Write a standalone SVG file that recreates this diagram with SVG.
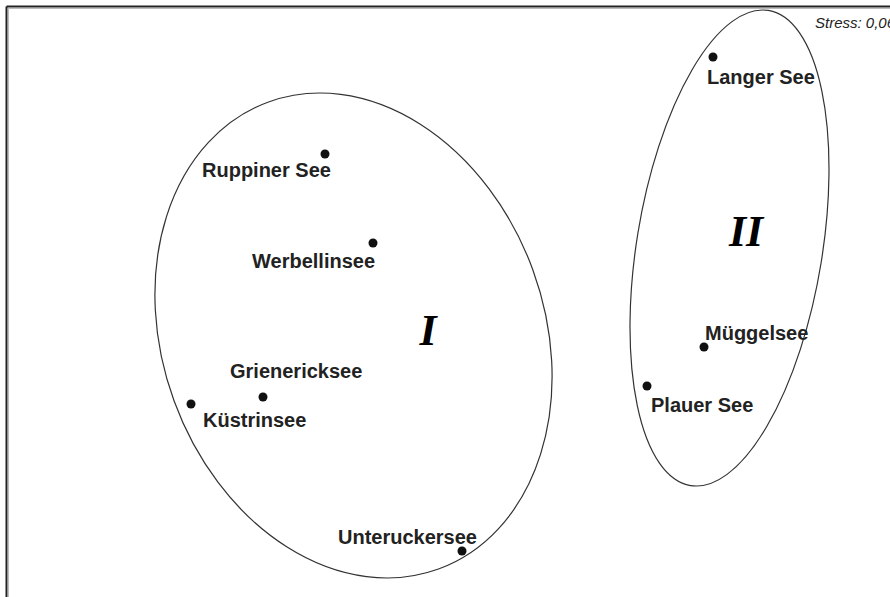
<svg xmlns="http://www.w3.org/2000/svg" width="890" height="597" viewBox="0 0 890 597">
<style>
.lbl{font-family:"Liberation Sans",Arial,sans-serif;font-weight:bold;font-size:20px;fill:#222}
.dot{fill:#111}
.grp{fill:none;stroke:#333;stroke-width:1.2}
.roman{font-family:"Liberation Serif","Times New Roman",serif;font-weight:bold;font-style:italic;font-size:44px;fill:#000;text-anchor:middle}
</style>
<rect width="890" height="597" fill="#fff"/>
<g id="frame">
<line x1="6.5" y1="6.5" x2="890" y2="6.5" stroke="#222" stroke-width="2"/>
<line x1="6.5" y1="6.5" x2="6.5" y2="597" stroke="#222" stroke-width="2"/>
<line x1="8" y1="8.5" x2="890" y2="8.5" stroke="#bbb" stroke-width="1"/>
<line x1="8.5" y1="8" x2="8.5" y2="597" stroke="#bbb" stroke-width="1"/>
</g>
<text x="815" y="28" font-family="'Liberation Sans',Arial,sans-serif" font-style="italic" font-size="15" fill="#222">Stress: 0,06</text>
<g id="group-I">
<ellipse class="grp" cx="353.5" cy="335.5" rx="191" ry="248.5" transform="rotate(-20 353.5 335.5)"/>
<text class="roman" x="428" y="345">I</text>
</g>
<g id="group-II">
<ellipse class="grp" cx="729.5" cy="248" rx="92.8" ry="240.7" transform="rotate(9.3 729.5 248)"/>
<text class="roman" x="746" y="246">II</text>
</g>
<g id="ruppiner-see"><circle class="dot" cx="325" cy="154" r="4.5"/><text class="lbl" x="202" y="177">Ruppiner See</text></g>
<g id="werbellinsee"><circle class="dot" cx="373" cy="243" r="4.5"/><text class="lbl" x="252" y="268">Werbellinsee</text></g>
<g id="grienericksee"><circle class="dot" cx="263" cy="397" r="4.5"/><text class="lbl" x="230" y="378">Grienericksee</text></g>
<g id="kuestrinsee"><circle class="dot" cx="191" cy="404" r="4.5"/><text class="lbl" x="203" y="427">Küstrinsee</text></g>
<g id="unteruckersee"><circle class="dot" cx="462" cy="551" r="4.5"/><text class="lbl" x="338" y="544">Unteruckersee</text></g>
<g id="langer-see"><circle class="dot" cx="713" cy="57" r="4.5"/><text class="lbl" x="707" y="84">Langer See</text></g>
<g id="mueggelsee"><circle class="dot" cx="704" cy="347" r="4.5"/><text class="lbl" x="705" y="340">Müggelsee</text></g>
<g id="plauer-see"><circle class="dot" cx="647" cy="386" r="4.5"/><text class="lbl" x="651" y="412">Plauer See</text></g>
<g id="connectors"/>
</svg>
